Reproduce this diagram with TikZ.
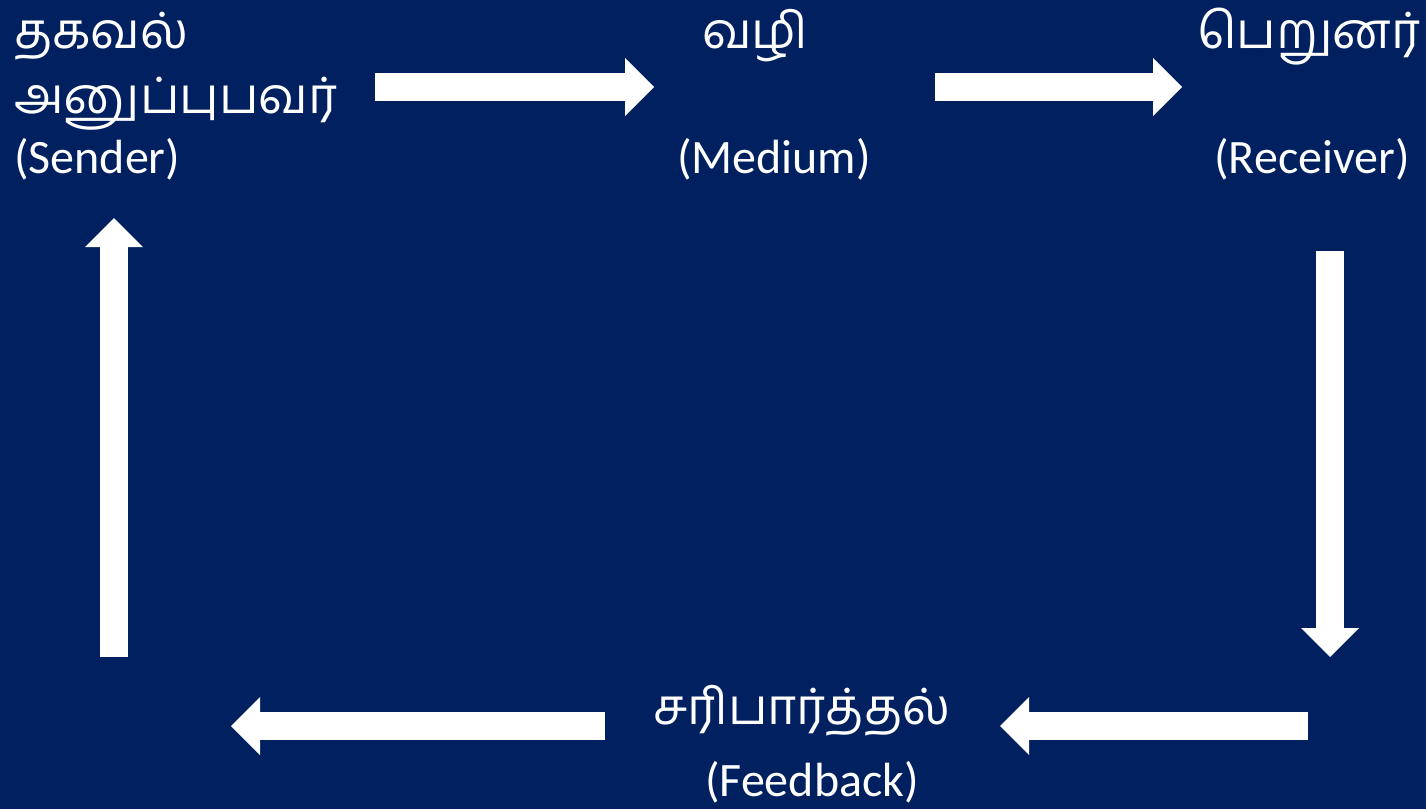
\documentclass[tikz,border=0pt]{standalone}
\usepackage{fontspec}
\setmainfont{Carlito}
\newfontfamily\tamilfont[Script=Tamil]{Hind Madurai}
\usetikzlibrary{arrows.meta}
\definecolor{navy}{RGB}{0,32,96}

\begin{document}
\begin{tikzpicture}[x=1pt, y=-1pt,
                    tamil/.style={text=white,inner sep=0pt,font=\tamilfont\fontsize{50}{56}\selectfont},
                    latin/.style={text=white,inner sep=0pt,font=\fontsize{48}{54}\selectfont},
                    blockarrow/.style={white,line width=28pt,
                      -{Triangle[length=29pt,width=58pt,line width=0pt]}}]

  \fill[navy] (0,0) rectangle (1426,809);
  \useasboundingbox (0,0) rectangle (1426,809);

  % sender
  \node[tamil,anchor=base west] (sendA) at (14,48) {தகவல்};
  \node[tamil,anchor=base west] (sendB) at (14,113) {அனுப்புபவர்};
  \node[latin,anchor=base west] (sendC) at (14,173) {(Sender)};

  % medium
  \node[tamil,anchor=base] (medA) at (755,48) {வழி};
  \node[latin,anchor=base] (medB) at (774,173) {(Medium)};

  % receiver
  \node[tamil,anchor=base] (recA) at (1309,48) {பெறுனர்};
  \node[latin,anchor=base] (recB) at (1312,173) {(Receiver)};

  % feedback
  \node[tamil,anchor=base] (fbA) at (802,724) {சரிபார்த்தல்};
  \node[latin,anchor=base] (fbB) at (812,796) {(Feedback)};

  % arrows
  \coordinate (a1s) at (375,87);
  \coordinate (a1e) at (654,87);
  \coordinate (a2s) at (935,87);
  \coordinate (a2e) at (1182,87);
  \coordinate (a3s) at (1330,251);
  \coordinate (a3e) at (1330,657);
  \coordinate (a4s) at (1308,726);
  \coordinate (a4e) at (1000,726);
  \coordinate (a5s) at (605,726);
  \coordinate (a5e) at (231,726);
  \coordinate (a6s) at (114,657);
  \coordinate (a6e) at (114,218);

  \draw[blockarrow] (a1s) -- (a1e);
  \draw[blockarrow] (a2s) -- (a2e);
  \draw[blockarrow] (a3s) -- (a3e);
  \draw[blockarrow] (a4s) -- (a4e);
  \draw[blockarrow] (a5s) -- (a5e);
  \draw[blockarrow] (a6s) -- (a6e);

\end{tikzpicture}
\end{document}
